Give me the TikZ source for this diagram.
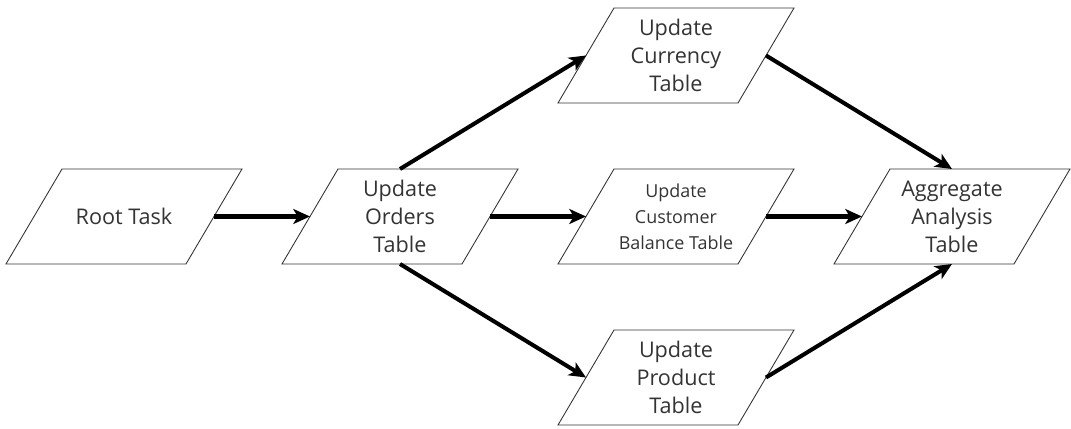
\documentclass[tikz,border=0pt]{standalone}
\usepackage{fontspec}
\setmainfont{Open Sans}
\usepackage{tikz}
\usetikzlibrary{arrows.meta,positioning}

\begin{document}
\begin{tikzpicture}[
  node distance=1.32cm and 1.92cm,
  box/.style={align=center, font=\fontsize{12.3}{16}\selectfont, text=black!80,
              minimum width=3.6cm, minimum height=1.9cm, inner sep=0pt,
              outer sep=0pt},
  edge/.style={draw=black!80, line width=0.5pt},
  arr/.style={-{Stealth[length=9.5pt,width=8.5pt,inset=2.5pt]}, line width=2.3pt}
]
\useasboundingbox (-2.48,-4.25) rectangle (18.94,4.33);
\node[box] (root) {Root Task};
\node[box, right=of root] (orders) {Update\\Orders\\Table};
\node[box, right=of orders, font=\fontsize{10.2}{14.8}\selectfont] (balance) {Update\\Customer\\Balance Table};
\node[box, above=of balance] (currency) {Update\\Currency\\Table};
\node[box, below=of balance] (product) {Update\\Product\\Table};
\node[box, right=of balance] (agg) {Aggregate\\Analysis\\Table};

% slanted outlines
\foreach \n in {root,orders,balance,currency,product,agg}
  \draw[edge] ([xshift=5.6mm]\n.north west) -- ([xshift=5.6mm]\n.north east)
    -- ([xshift=-5.6mm]\n.south east) -- ([xshift=-5.6mm]\n.south west) -- cycle;

\draw[arr] (root) -- (orders);
\draw[arr] (orders.north) -- (currency.west);
\draw[arr] (orders) -- (balance);
\draw[arr] (orders.south) -- (product.west);
\draw[arr] (currency.east) -- (agg.north);
\draw[arr] (balance) -- (agg);
\draw[arr] (product.east) -- (agg.south);
\end{tikzpicture}
\end{document}
